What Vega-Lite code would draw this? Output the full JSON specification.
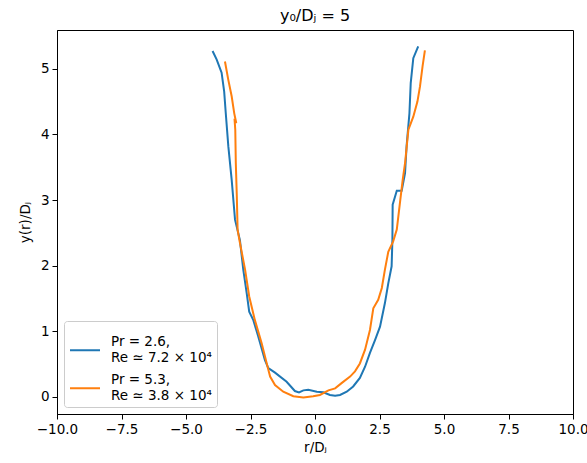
{
  "$schema": "https://vega.github.io/schema/vega-lite/v6.json",
  "width": 516,
  "height": 384,
  "autosize": "none",
  "padding": {"left": 57, "top": 30, "right": 14, "bottom": 49},
  "background": "white",
  "title": {"text": "y₀/Dⱼ = 5", "font": "DejaVu Sans", "fontSize": 16, "fontWeight": "normal", "color": "black", "offset": 6},
  "config": {
    "view": {"stroke": "black", "strokeWidth": 1},
    "axis": {"grid": false, "domainColor": "black", "tickColor": "black", "labelColor": "black", "titleColor": "black", "labelFont": "DejaVu Sans", "titleFont": "DejaVu Sans", "labelFontSize": 13.5, "titleFontSize": 13.5, "titleFontWeight": "normal", "tickSize": 5, "labelPadding": 3, "domainWidth": 1, "tickWidth": 1}
  },
  "data": {"values": [
    {"s": "a", "i": 1, "x": -3.97, "y": 5.27},
    {"s": "a", "i": 2, "x": -3.81, "y": 5.14},
    {"s": "a", "i": 3, "x": -3.62, "y": 4.94},
    {"s": "a", "i": 4, "x": -3.52, "y": 4.65},
    {"s": "a", "i": 5, "x": -3.46, "y": 4.33},
    {"s": "a", "i": 6, "x": -3.36, "y": 3.82},
    {"s": "a", "i": 7, "x": -3.23, "y": 3.31},
    {"s": "a", "i": 8, "x": -3.10, "y": 2.70},
    {"s": "a", "i": 9, "x": -2.91, "y": 2.39},
    {"s": "a", "i": 10, "x": -2.78, "y": 1.94},
    {"s": "a", "i": 11, "x": -2.65, "y": 1.59},
    {"s": "a", "i": 12, "x": -2.55, "y": 1.30},
    {"s": "a", "i": 13, "x": -2.39, "y": 1.17},
    {"s": "a", "i": 14, "x": -2.20, "y": 0.92},
    {"s": "a", "i": 15, "x": -1.94, "y": 0.56},
    {"s": "a", "i": 16, "x": -1.81, "y": 0.44},
    {"s": "a", "i": 17, "x": -1.55, "y": 0.37},
    {"s": "a", "i": 18, "x": -1.10, "y": 0.23},
    {"s": "a", "i": 19, "x": -0.78, "y": 0.09},
    {"s": "a", "i": 20, "x": -0.62, "y": 0.07},
    {"s": "a", "i": 21, "x": -0.45, "y": 0.10},
    {"s": "a", "i": 22, "x": -0.26, "y": 0.11},
    {"s": "a", "i": 23, "x": 0.07, "y": 0.08},
    {"s": "a", "i": 24, "x": 0.32, "y": 0.07},
    {"s": "a", "i": 25, "x": 0.58, "y": 0.03},
    {"s": "a", "i": 26, "x": 0.78, "y": 0.02},
    {"s": "a", "i": 27, "x": 0.97, "y": 0.03},
    {"s": "a", "i": 28, "x": 1.23, "y": 0.08},
    {"s": "a", "i": 29, "x": 1.48, "y": 0.16},
    {"s": "a", "i": 30, "x": 1.74, "y": 0.29},
    {"s": "a", "i": 31, "x": 1.94, "y": 0.46},
    {"s": "a", "i": 32, "x": 2.13, "y": 0.67},
    {"s": "a", "i": 33, "x": 2.33, "y": 0.87},
    {"s": "a", "i": 34, "x": 2.52, "y": 1.07},
    {"s": "a", "i": 35, "x": 2.71, "y": 1.43},
    {"s": "a", "i": 36, "x": 2.84, "y": 1.73},
    {"s": "a", "i": 37, "x": 2.97, "y": 1.99},
    {"s": "a", "i": 38, "x": 3.00, "y": 2.39},
    {"s": "a", "i": 39, "x": 3.01, "y": 2.93},
    {"s": "a", "i": 40, "x": 3.17, "y": 3.14},
    {"s": "a", "i": 41, "x": 3.36, "y": 3.14},
    {"s": "a", "i": 42, "x": 3.49, "y": 3.41},
    {"s": "a", "i": 43, "x": 3.55, "y": 3.82},
    {"s": "a", "i": 44, "x": 3.66, "y": 4.32},
    {"s": "a", "i": 45, "x": 3.71, "y": 4.78},
    {"s": "a", "i": 46, "x": 3.81, "y": 5.16},
    {"s": "a", "i": 47, "x": 4.00, "y": 5.34},
    {"s": "b", "i": 1, "x": -3.49, "y": 5.11},
    {"s": "b", "i": 2, "x": -3.36, "y": 4.83},
    {"s": "b", "i": 3, "x": -3.23, "y": 4.58},
    {"s": "b", "i": 4, "x": -3.13, "y": 4.32},
    {"s": "b", "i": 5, "x": -3.05, "y": 4.17},
    {"s": "b", "i": 6, "x": -3.12, "y": 4.24},
    {"s": "b", "i": 7, "x": -3.09, "y": 4.07},
    {"s": "b", "i": 8, "x": -3.07, "y": 3.57},
    {"s": "b", "i": 9, "x": -3.03, "y": 3.05},
    {"s": "b", "i": 10, "x": -3.00, "y": 2.55},
    {"s": "b", "i": 11, "x": -2.93, "y": 2.39},
    {"s": "b", "i": 12, "x": -2.71, "y": 1.94},
    {"s": "b", "i": 13, "x": -2.55, "y": 1.53},
    {"s": "b", "i": 14, "x": -2.33, "y": 1.17},
    {"s": "b", "i": 15, "x": -2.07, "y": 0.82},
    {"s": "b", "i": 16, "x": -1.87, "y": 0.51},
    {"s": "b", "i": 17, "x": -1.74, "y": 0.31},
    {"s": "b", "i": 18, "x": -1.55, "y": 0.18},
    {"s": "b", "i": 19, "x": -1.23, "y": 0.08},
    {"s": "b", "i": 20, "x": -0.84, "y": 0.01},
    {"s": "b", "i": 21, "x": -0.45, "y": -0.01},
    {"s": "b", "i": 22, "x": -0.07, "y": 0.01},
    {"s": "b", "i": 23, "x": 0.19, "y": 0.03},
    {"s": "b", "i": 24, "x": 0.52, "y": 0.10},
    {"s": "b", "i": 25, "x": 0.78, "y": 0.13},
    {"s": "b", "i": 26, "x": 1.03, "y": 0.21},
    {"s": "b", "i": 27, "x": 1.36, "y": 0.31},
    {"s": "b", "i": 28, "x": 1.55, "y": 0.39},
    {"s": "b", "i": 29, "x": 1.74, "y": 0.51},
    {"s": "b", "i": 30, "x": 1.94, "y": 0.72},
    {"s": "b", "i": 31, "x": 2.13, "y": 1.02},
    {"s": "b", "i": 32, "x": 2.26, "y": 1.35},
    {"s": "b", "i": 33, "x": 2.45, "y": 1.48},
    {"s": "b", "i": 34, "x": 2.59, "y": 1.66},
    {"s": "b", "i": 35, "x": 2.71, "y": 1.94},
    {"s": "b", "i": 36, "x": 2.84, "y": 2.21},
    {"s": "b", "i": 37, "x": 3.03, "y": 2.37},
    {"s": "b", "i": 38, "x": 3.17, "y": 2.55},
    {"s": "b", "i": 39, "x": 3.29, "y": 2.95},
    {"s": "b", "i": 40, "x": 3.40, "y": 3.31},
    {"s": "b", "i": 41, "x": 3.49, "y": 3.56},
    {"s": "b", "i": 42, "x": 3.62, "y": 4.07},
    {"s": "b", "i": 43, "x": 3.81, "y": 4.27},
    {"s": "b", "i": 44, "x": 3.97, "y": 4.50},
    {"s": "b", "i": 45, "x": 4.07, "y": 4.73},
    {"s": "b", "i": 46, "x": 4.17, "y": 5.04},
    {"s": "b", "i": 47, "x": 4.26, "y": 5.28}
  ]},
  "mark": {"type": "line", "strokeWidth": 2, "clip": true},
  "encoding": {
    "x": {"field": "x", "type": "quantitative", "scale": {"domain": [-10, 10], "nice": false, "zero": false},
      "axis": {"values": [-10, -7.5, -5, -2.5, 0, 2.5, 5, 7.5, 10], "format": ".1f", "labelFlush": false, "title": "r/Dⱼ", "titlePadding": 5}},
    "y": {"field": "y", "type": "quantitative", "scale": {"domain": [-0.26, 5.59], "nice": false, "zero": false},
      "axis": {"values": [0, 1, 2, 3, 4, 5], "labelFlush": false, "title": "y(r)/Dⱼ", "titlePadding": 8}},
    "color": {"field": "s", "type": "nominal",
      "scale": {"domain": ["a", "b"], "range": ["#1f77b4", "#ff7f0e"]},
      "legend": {"title": null, "orient": "bottom-left", "offset": 7,
        "labelExpr": "datum.value == 'a' ? ['Pr = 2.6,', 'Re ≃ 7.2 × 10⁴'] : ['Pr = 5.3,', 'Re ≃ 3.8 × 10⁴']",
        "labelFont": "DejaVu Sans", "labelFontSize": 13.5, "labelColor": "black",
        "symbolType": "M-1,0.55L1,0.55", "symbolSize": 900, "symbolStrokeWidth": 2, "symbolFillColor": "transparent",
        "fillColor": "white", "strokeColor": "#cccccc", "cornerRadius": 3, "padding": 5, "rowPadding": -2, "labelOffset": 10}},
    "order": {"field": "i", "type": "quantitative"}
  }
}
